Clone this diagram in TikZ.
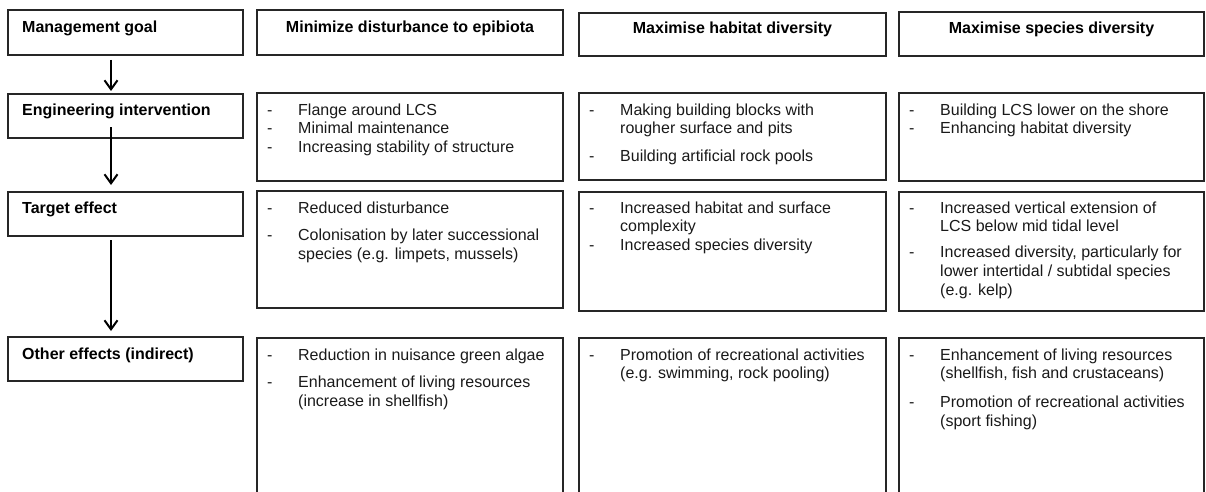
\documentclass[tikz,border=0pt]{standalone}
\usepackage{fontspec}
\setmainfont{Liberation Sans}
\usetikzlibrary{calc,arrows.meta}
\newcommand\mybox[5]{\node[box,anchor=north west,minimum width={#4-#2},minimum height={#5-#3}] (#1) at (#2,#3) {};}
\newcommand\dashlist[1]{\begin{tabular}[t]{@{}p{31pt}@{}l@{}}#1\end{tabular}}
\begin{document}
\begin{tikzpicture}[x=1pt,y=-1pt,
  box/.style={draw=black!85,line width=1.3pt,inner sep=0pt,outer sep=0pt},
  head/.style={font=\bfseries\fontsize{16}{19}\selectfont,inner sep=0pt,anchor=base},
  side/.style={font=\bfseries\fontsize{16}{19}\selectfont,inner sep=0pt,anchor=base west},
  lst/.style={font=\fontsize{16}{18.8}\selectfont,inner sep=0pt,anchor=base west,text=black!90},
  arr/.style={line width=2pt,-{Straight Barb[length=9pt,width=13pt,line width=2pt]}}]
\useasboundingbox (0,0) rectangle (1206,492);
\clip (0,0) rectangle (1206,492);
% left column
\mybox{mg}{8}{10}{243}{55}
\mybox{ei}{8}{94}{243}{138}
\mybox{te}{8}{192}{243}{236}
\mybox{oe}{8}{337}{243}{381}
\node[side] (mgt) at ($(mg.north west)+(14,23)$) {Management goal};
\node[side] (eit) at ($(ei.north west)+(14,22)$) {Engineering intervention};
\node[side] (tet) at ($(te.north west)+(14,21)$) {Target effect};
\node[side] (oet) at ($(oe.north west)+(14,22)$) {Other effects (indirect)};
\draw[arr] ($(mg.south west)+(103,5)$) -- ($(ei.north west)+(103,-3)$);
\draw[arr] ($(ei.south west)+(103,-11)$) -- ($(te.north west)+(103,-7)$);
\draw[arr] ($(te.south west)+(103,4)$) -- ($(oe.north west)+(103,-6)$);
% column 2
\mybox{ah}{257}{10}{563}{55}
\mybox{ae}{257}{93}{563}{181}
\mybox{at}{257}{191}{563}{308}
\mybox{ao}{257}{338}{563}{505}
\node[head] (aht) at ($(ah.north)+(0,23)$) {Minimize disturbance to epibiota};
\node[lst] (aet) at ($(ae.north west)+(10,22)$) {\dashlist{- & Flange around LCS\\ - & Minimal maintenance\\ - & Increasing stability of structure}};
\node[lst] (att) at ($(at.north west)+(10,22)$) {\dashlist{- & Reduced disturbance\\[9pt] - & Colonisation by later successional\\ & species (e.g. limpets, mussels)}};
\node[lst] (aot) at ($(ao.north west)+(10,22)$) {\dashlist{- & Reduction in nuisance green algae\\[9pt] - & Enhancement of living resources\\ & (increase in shellfish)}};
% column 3
\mybox{bh}{579}{13}{886}{56}
\mybox{be}{579}{93}{886}{180}
\mybox{bt}{579}{192}{886}{311}
\mybox{bo}{579}{338}{886}{505}
\node[head] (bht) at ($(bh.north)+(0,21)$) {Maximise habitat diversity};
\node[lst] (bet) at ($(be.north west)+(10,22)$) {\dashlist{- & Making building blocks with\\ & rougher surface and pits\\[9pt] - & Building artificial rock pools}};
\node[lst] (btt) at ($(bt.north west)+(10,21)$) {\dashlist{- & Increased habitat and surface\\ & complexity\\ - & Increased species diversity}};
\node[lst] (bot) at ($(bo.north west)+(10,22)$) {\dashlist{- & Promotion of recreational activities\\ & (e.g. swimming, rock pooling)}};
% column 4
\mybox{ch}{899}{12}{1204}{56}
\mybox{ce}{899}{93}{1204}{181}
\mybox{ct}{899}{192}{1204}{311}
\mybox{co}{899}{338}{1204}{505}
\node[head] (cht) at ($(ch.north)+(0,22)$) {Maximise species diversity};
\node[lst] (cet) at ($(ce.north west)+(10,22)$) {\dashlist{- & Building LCS lower on the shore\\ - & Enhancing habitat diversity}};
\node[lst] (ctt) at ($(ct.north west)+(10,21)$) {\dashlist{- & Increased vertical extension of\\ & LCS below mid tidal level\\[7pt] - & Increased diversity, particularly for\\ & lower intertidal / subtidal species\\ & (e.g. kelp)}};
\node[lst] (cot) at ($(co.north west)+(10,22)$) {\dashlist{- & Enhancement of living resources\\ & (shellfish, fish and crustaceans)\\[10pt] - & Promotion of recreational activities\\ & (sport fishing)}};
\end{tikzpicture}
\end{document}
